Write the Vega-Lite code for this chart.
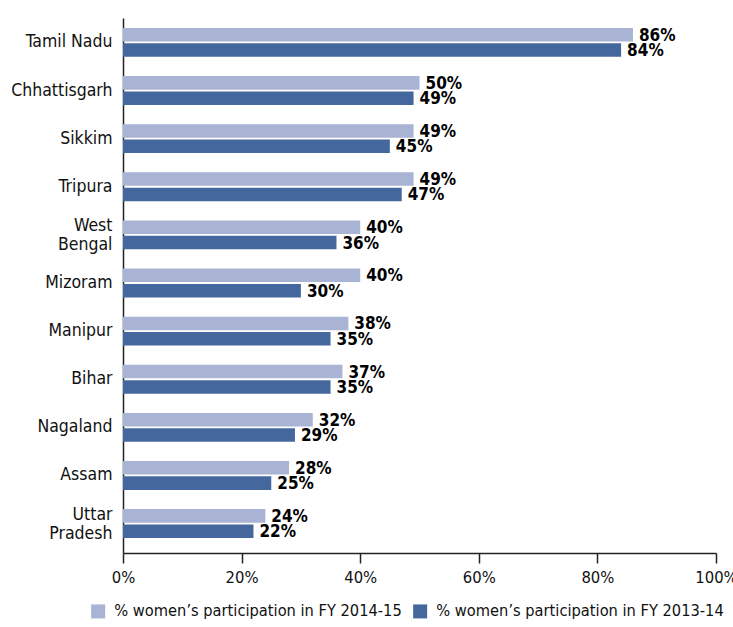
{
  "$schema": "https://vega.github.io/schema/vega-lite/v6.json",
  "width": 593,
  "height": 535,
  "autosize": "none",
  "padding": {"left": 123, "top": 18, "right": 17, "bottom": 74},
  "background": "white",
  "config": {
    "view": {"stroke": null},
    "font": "DejaVu Sans Condensed, Liberation Sans, sans-serif",
    "axis": {"labelFont": "DejaVu Sans Condensed, Liberation Sans, sans-serif", "labelColor": "#111", "domainColor": "#222", "tickColor": "#222", "grid": false},
    "legend": {"labelFont": "DejaVu Sans Condensed, Liberation Sans, sans-serif"}
  },
  "data": {
    "values": [
      {"state": "Tamil Nadu", "series": "% women’s participation in FY 2014-15", "value": 0.86},
      {"state": "Tamil Nadu", "series": "% women’s participation in FY 2013-14", "value": 0.84},
      {"state": "Chhattisgarh", "series": "% women’s participation in FY 2014-15", "value": 0.50},
      {"state": "Chhattisgarh", "series": "% women’s participation in FY 2013-14", "value": 0.49},
      {"state": "Sikkim", "series": "% women’s participation in FY 2014-15", "value": 0.49},
      {"state": "Sikkim", "series": "% women’s participation in FY 2013-14", "value": 0.45},
      {"state": "Tripura", "series": "% women’s participation in FY 2014-15", "value": 0.49},
      {"state": "Tripura", "series": "% women’s participation in FY 2013-14", "value": 0.47},
      {"state": "West Bengal", "series": "% women’s participation in FY 2014-15", "value": 0.40},
      {"state": "West Bengal", "series": "% women’s participation in FY 2013-14", "value": 0.36},
      {"state": "Mizoram", "series": "% women’s participation in FY 2014-15", "value": 0.40},
      {"state": "Mizoram", "series": "% women’s participation in FY 2013-14", "value": 0.30},
      {"state": "Manipur", "series": "% women’s participation in FY 2014-15", "value": 0.38},
      {"state": "Manipur", "series": "% women’s participation in FY 2013-14", "value": 0.35},
      {"state": "Bihar", "series": "% women’s participation in FY 2014-15", "value": 0.37},
      {"state": "Bihar", "series": "% women’s participation in FY 2013-14", "value": 0.35},
      {"state": "Nagaland", "series": "% women’s participation in FY 2014-15", "value": 0.32},
      {"state": "Nagaland", "series": "% women’s participation in FY 2013-14", "value": 0.29},
      {"state": "Assam", "series": "% women’s participation in FY 2014-15", "value": 0.28},
      {"state": "Assam", "series": "% women’s participation in FY 2013-14", "value": 0.25},
      {"state": "Uttar Pradesh", "series": "% women’s participation in FY 2014-15", "value": 0.24},
      {"state": "Uttar Pradesh", "series": "% women’s participation in FY 2013-14", "value": 0.22}
    ]
  },
  "encoding": {
    "y": {
      "field": "state", "type": "nominal", "sort": null, "title": null,
      "scale": {"paddingInner": 0.4, "paddingOuter": 0.26, "align": 0.4},
      "axis": {
        "ticks": false, "labelPadding": 11, "labelFontSize": 17.5, "labelLineHeight": 19,
        "domainWidth": 1.5,
        "labelOffset": {"condition": {"test": "datum.value == 'West Bengal' || datum.value == 'Uttar Pradesh'", "value": -9}, "value": 0},
        "labelExpr": "datum.label == 'West Bengal' ? ['West','Bengal'] : datum.label == 'Uttar Pradesh' ? ['Uttar','Pradesh'] : datum.label"
      }
    },
    "yOffset": {
      "field": "series", "type": "nominal",
      "sort": ["% women’s participation in FY 2014-15", "% women’s participation in FY 2013-14"],
      "scale": {"paddingInner": 0.12, "paddingOuter": 0}
    },
    "x": {
      "field": "value", "type": "quantitative", "title": null,
      "scale": {"domain": [0, 1], "nice": false},
      "axis": {
        "values": [0, 0.2, 0.4, 0.6, 0.8, 1], "format": ".0%",
        "labelFontSize": 16.5, "tickSize": 10, "tickWidth": 1.5, "domainWidth": 1.5,
        "labelPadding": 6, "labelFlush": false
      }
    }
  },
  "layer": [
    {
      "mark": {"type": "bar"},
      "encoding": {
        "color": {
          "field": "series", "type": "nominal", "title": null,
          "sort": ["% women’s participation in FY 2014-15", "% women’s participation in FY 2013-14"],
          "scale": {"range": ["#a9b4d4", "#44679d"]},
          "legend": {
            "orient": "none", "legendX": -33, "legendY": 585, "direction": "horizontal",
            "padding": 0, "symbolType": "square", "symbolSize": 196, "symbolStrokeWidth": 0,
            "symbolOpacity": 1, "labelFontSize": 16.3, "labelColor": "#111", "labelOffset": 8,
            "columnPadding": 10, "labelLimit": 400
          }
        }
      }
    },
    {
      "mark": {"type": "text", "align": "left", "baseline": "middle", "dx": 6, "dy": 1, "font": "DejaVu Sans Condensed, Liberation Sans, sans-serif", "fontSize": 17, "fontWeight": "bold", "color": "#000"},
      "encoding": {
        "text": {"field": "value", "type": "quantitative", "format": ".0%"}
      }
    }
  ]
}
